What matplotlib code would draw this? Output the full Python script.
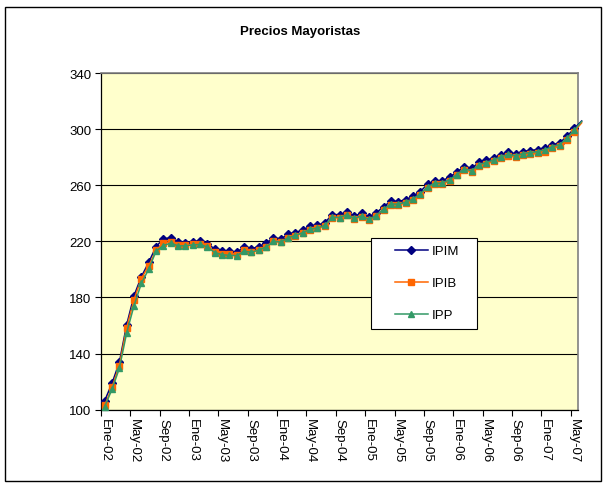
import matplotlib
matplotlib.use("Agg")
import matplotlib.pyplot as plt
from matplotlib.patches import Rectangle
from matplotlib.lines import Line2D

plt.rcParams['font.family'] = ['Liberation Sans', 'DejaVu Sans']

# monthly index values, Ene-02 .. May-07 (last value is Jun-07, only the line stub shows)
ipim = [106.4, 118.8, 133.8, 160.6, 181.3, 194.8, 205.0, 216.2, 221.8, 222.5,
        219.6, 219.0, 219.6, 220.3, 218.4, 214.5, 213.0, 212.8, 212.3, 215.8,
        214.7, 216.3, 218.7, 222.5, 221.8, 224.9, 226.3, 228.2, 230.6, 231.5,
        233.2, 239.1, 239.0, 240.8, 238.2, 239.9, 237.4, 240.2, 244.8, 248.5,
        248.4, 249.6, 252.0, 255.5, 260.7, 263.1, 263.2, 265.8, 269.3, 273.3,
        272.0, 276.3, 277.8, 279.5, 281.7, 283.5, 282.4, 284.0, 284.7, 285.4,
        286.6, 288.8, 290.2, 294.9, 300.5, 305.8]
ipib = [103.0, 116.0, 131.5, 158.5, 178.5, 193.5, 202.5, 213.5, 219.0, 219.8,
        217.5, 217.2, 217.8, 218.2, 216.5, 212.5, 211.0, 210.8, 210.3, 213.5,
        212.5, 214.0, 216.3, 220.0, 219.5, 222.5, 224.0, 226.0, 228.3, 229.2,
        231.0, 236.8, 236.8, 238.5, 236.0, 237.5, 235.0, 238.0, 242.5, 246.0,
        246.0, 247.2, 249.6, 253.2, 258.3, 260.6, 260.8, 263.3, 267.0, 270.8,
        269.6, 273.8, 275.3, 277.0, 279.2, 281.0, 280.0, 281.5, 282.0, 282.7,
        284.0, 286.3, 287.8, 292.5, 298.3, 304.5]
ipp = [102.2, 114.5, 129.5, 154.8, 174.2, 190.0, 200.2, 213.0, 217.0, 218.8,
       216.8, 216.8, 217.5, 217.8, 216.0, 212.0, 210.5, 210.0, 209.8, 213.0,
       212.2, 213.8, 216.0, 220.0, 219.5, 222.6, 224.2, 226.2, 228.6, 229.6,
       231.4, 237.2, 237.0, 239.0, 236.4, 238.0, 235.6, 238.4, 243.0, 246.6,
       246.6, 247.8, 250.2, 253.8, 259.0, 261.4, 261.6, 264.0, 267.6, 271.6,
       270.4, 274.6, 276.2, 278.0, 280.2, 282.0, 281.0, 282.6, 283.3, 284.0,
       285.3, 287.5, 289.0, 293.6, 299.3, 305.5]

tick_labels = ["Ene-02", "May-02", "Sep-02", "Ene-03", "May-03", "Sep-03",
               "Ene-04", "May-04", "Sep-04", "Ene-05", "May-05", "Sep-05",
               "Ene-06", "May-06", "Sep-06", "Ene-07", "May-07"]
n_months = 65

W, H = 603, 485
fig = plt.figure(figsize=(W / 100, H / 100), dpi=100)
fig.patch.set_facecolor('white')

# outer chart border
fig.patches.append(Rectangle((5 / W, 1 - 482 / H), 596 / W, 474 / H,
                             transform=fig.transFigure, fill=False,
                             edgecolor='black', linewidth=1.0))

ax = fig.add_axes([101 / W, 1 - 410.7 / H, 477 / W, 336.7 / H])
ax.set_facecolor('#FFFFCC')

x = list(range(len(ipim)))
series = [
    ('IPIM', ipim, '#000080', 'D', 4.5),
    ('IPIB', ipib, '#FF6600', 's', 4.8),
    ('IPP', ipp, '#339966', '^', 4.8),
]
handles = []
for name, vals, col, mk, ms in series:
    ax.plot(x, vals, color=col, lw=1.1, marker=mk, ms=ms, mec=col, mfc=col,
            markevery=list(range(n_months)), clip_on=False, zorder=3)
    handles.append(Line2D([], [], color=col, lw=1.1, marker=mk, ms=ms,
                          mec=col, mfc=col, label=name))

ax.set_xlim(-0.5, n_months - 0.5)
ax.set_ylim(100, 340)
ax.set_yticks(range(100, 341, 40))
ax.yaxis.grid(True, color='black', lw=0.8)
ax.set_axisbelow(True)

ax.set_xticks([i - 0.5 for i in range(0, n_months, 4)])
ax.set_xticklabels([])
ax.set_xticks(list(range(0, n_months, 4)), minor=True)
ax.set_xticklabels(tick_labels, minor=True, rotation=-90, fontsize=9.5,
                   va='top', ha='center')
ax.tick_params(axis='x', which='major', length=4, direction='out', width=0.8)
ax.tick_params(axis='x', which='minor', length=0, pad=6)
ax.tick_params(axis='y', length=4, direction='out', width=0.8, labelsize=9.5, pad=3)

for s in ['top', 'right']:
    ax.spines[s].set_color('#808080')
    ax.spines[s].set_linewidth(1.2)
for s in ['left', 'bottom']:
    ax.spines[s].set_color('black')
    ax.spines[s].set_linewidth(0.9)

fig.text(300 / W, 1 - 32 / H, 'Precios Mayoristas', ha='center', va='center',
         fontsize=9.5, fontweight='bold')

# legend box
fig.patches.append(Rectangle((370.5 / W, 1 - 330 / H), 106.5 / W, 91 / H,
                             transform=fig.transFigure, facecolor='white',
                             edgecolor='black', linewidth=0.8, zorder=5))
leg = fig.legend(handles=handles, loc='upper left',
                 bbox_to_anchor=(395 / W, 1 - 246 / H), frameon=False,
                 fontsize=9.5, handlelength=2.5, handletextpad=0.3,
                 labelspacing=1.5, borderpad=0, borderaxespad=0)
leg.set_zorder(6)

fig.savefig('out.png', dpi=100)
